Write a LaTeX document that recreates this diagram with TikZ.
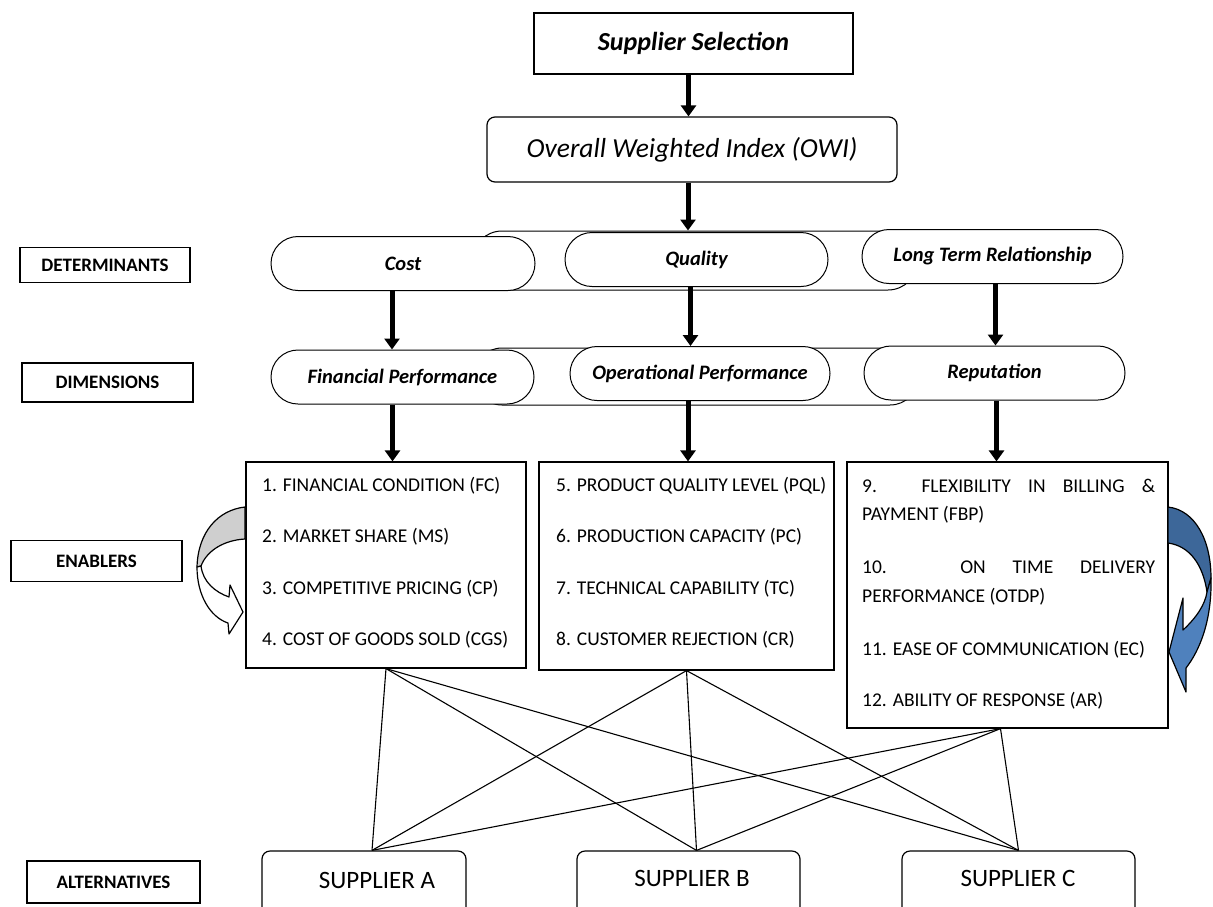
\documentclass[tikz,border=0pt]{standalone}
\usepackage{fontspec}
\setmainfont{Carlito}
\usetikzlibrary{arrows.meta,shapes.misc}
\newcommand\myfs[1]{\fontsize{#1}{#1}\selectfont}
\definecolor{bluedark}{HTML}{3D6799}
\definecolor{bluelight}{HTML}{4F81BD}
\definecolor{arrgray}{HTML}{CFCFCF}
\begin{document}
\begin{tikzpicture}[x=1pt,y=-1pt,
  box/.style={draw, line width=1.2pt, fill=white, inner sep=0pt},
  lbl/.style={box, font=\myfs{19}\bfseries},
  oval/.style={rounded rectangle, draw, line width=1pt, fill=white, minimum height=54, inner sep=0pt, font=\myfs{20.5}\bfseries\itshape},
  band/.style={rounded rectangle, draw, line width=1pt, fill=white, inner sep=0pt},
  bigarrow/.style={line width=5pt, -{Triangle[width=15pt,length=11pt]}},
  item/.style={anchor=west, inner sep=0pt, font=\myfs{19.5}},
  sup/.style={draw, line width=1.2pt, rounded corners=8pt, inner sep=0pt},
  link/.style={line width=1.1pt},
  curv/.style={line width=1.2pt, line join=round}
]
\clip (0,0) rectangle (1213,906);
\fill[white] (0,0) rectangle (1213,906);

% top boxes
\node[box, minimum width=319, minimum height=61, font=\myfs{26}\bfseries\itshape] (sel) at (693.5,43.5) {Supplier Selection};
\node[box, rounded corners=8pt, minimum width=410, minimum height=65, font=\myfs{27.5}\itshape] (owi) at (692,149.5) {Overall Weighted Index (OWI)};

% determinants row
\node[band, minimum width=445, minimum height=59] (band1) at (695,260.5) {};
\node[oval, minimum width=264] (cost) at (403,263.5) {Cost};
\node[oval, minimum width=263] (qual) at (696.5,259.5) {Quality};
\node[oval, minimum width=261] (ltr) at (992.5,256.5) {Long Term Relationship};

% dimensions row
\node[band, minimum width=445, minimum height=57] (band2) at (696,376.5) {};
\node[oval, minimum width=263] (fp) at (402.5,377) {Financial Performance};
\node[oval, minimum width=260] (op) at (700,373.5) {Operational Performance};
\node[oval, minimum width=261] (rep) at (994.5,373) {Reputation};

% left labels
\node[lbl, minimum width=170, minimum height=35] (det) at (105,265) {DETERMINANTS};
\node[lbl, minimum width=171, minimum height=39] (dim) at (107.5,382.5) {DIMENSIONS};
\node[lbl, minimum width=171, minimum height=41] (ena) at (96.5,561) {ENABLERS};
\node[lbl, minimum width=173, minimum height=42] (alt) at (113.5,882) {ALTERNATIVES};

% enabler boxes
\node[box, minimum width=280, minimum height=206] (e1) at (386,565) {};
\node[box, minimum width=295, minimum height=208] (e2) at (686.5,566) {};
\node[box, minimum width=321, minimum height=266] (e3) at (1007.5,595) {};

\node[item] (t1) at (262,486) {1. FINANCIAL CONDITION (FC)};
\node[item] (t2) at (262,537) {2. MARKET SHARE (MS)};
\node[item] (t3) at (262,589) {3. COMPETITIVE PRICING (CP)};
\node[item] (t4) at (262,640) {4. COST OF GOODS SOLD (CGS)};
\node[item] (t5) at (556,486) {5. PRODUCT QUALITY LEVEL (PQL)};
\node[item] (t6) at (556,537) {6. PRODUCTION CAPACITY (PC)};
\node[item] (t7) at (556,589) {7. TECHNICAL CAPABILITY (TC)};
\node[item] (t8) at (556,640) {8. CUSTOMER REJECTION (CR)};
\node[item] (t9) at (862,486) {\makebox[293pt][s]{9. FLEXIBILITY IN BILLING \&}};
\node[item] (t9b) at (862,515) {PAYMENT (FBP)};
\node[item] (t10) at (862,567) {\makebox[293pt][s]{10. ON TIME DELIVERY}};
\node[item] (t10b) at (862,597) {PERFORMANCE (OTDP)};
\node[item] (t11) at (862,650) {11. EASE OF COMMUNICATION (EC)};
\node[item] (t12) at (862,701) {12. ABILITY OF RESPONSE (AR)};

% thick arrows
\draw[bigarrow] ([xshift=-5]sel.south) -- ([xshift=-5]sel.south |- owi.north);
\draw[bigarrow] ([xshift=-4]owi.south) -- ([xshift=-4]owi.south |- band1.north);
\draw[bigarrow] ([xshift=-11]cost.south) -- ([xshift=-11]cost.south |- fp.north);
\draw[bigarrow] ([xshift=-6]qual.south) -- ([xshift=-6]qual.south |- op.north);
\draw[bigarrow] ([xshift=3]ltr.south) -- ([xshift=3]ltr.south |- rep.north);
\draw[bigarrow] ([xshift=-10]fp.south) -- ([xshift=-10]fp.south |- e1.north);
\draw[bigarrow] ([xshift=-12]op.south) -- ([xshift=-12]op.south |- e2.north);
\draw[bigarrow] ([xshift=2]rep.south) -- ([xshift=2]rep.south |- e3.north);

% suppliers
\node[sup, minimum width=204, minimum height=100] (sA) at (364,901) {};
\node[sup, minimum width=223, minimum height=100] (sB) at (688.5,901) {};
\node[sup, minimum width=233, minimum height=100] (sC) at (1018.5,901) {};
\node[font=\myfs{25}, inner sep=0pt] (sAt) at (377,880) {SUPPLIER A};
\node[font=\myfs{25}, inner sep=0pt] (sBt) at (692,878) {SUPPLIER B};
\node[font=\myfs{25}, inner sep=0pt] (sCt) at (1018,878) {SUPPLIER C};

\coordinate (ta) at ([xshift=8]sA.north);
\coordinate (tb) at ([xshift=8]sB.north);
\coordinate (tc) at (sC.north);
\coordinate (b3) at ([xshift=-7]e3.south);

\foreach \s in {e1.south, e2.south, b3}
  \foreach \t in {ta, tb, tc}
    \draw[link] (\s) -- (\t);

% left curved arrow (grey)
\draw[curv, fill=arrgray] (245,507) .. controls (218,510) and (198,532) .. (197,567)
  -- (201,566) .. controls (207,550) and (225,540) .. (245,539) -- cycle;
\draw[curv, fill=white] (197,567) .. controls (197,595) and (210,617) .. (228,623)
  -- (229,634) -- (243,612) -- (230,585) -- (229,597)
  .. controls (215,592) and (203,582) .. (201,566) -- cycle;

% right curved arrow (blue)
\draw[curv, fill=bluedark] (1168,507) .. controls (1195,510) and (1211,540) .. (1211,578)
  -- (1207,592) .. controls (1203,565) and (1190,546) .. (1168,543) -- cycle;
\draw[curv, fill=bluelight] (1211,578) .. controls (1212,620) and (1200,650) .. (1186,668)
  -- (1186,692) -- (1169,652) -- (1183,598) -- (1183,630)
  .. controls (1196,618) and (1205,605) .. (1207,592) -- cycle;
\end{tikzpicture}
\end{document}
